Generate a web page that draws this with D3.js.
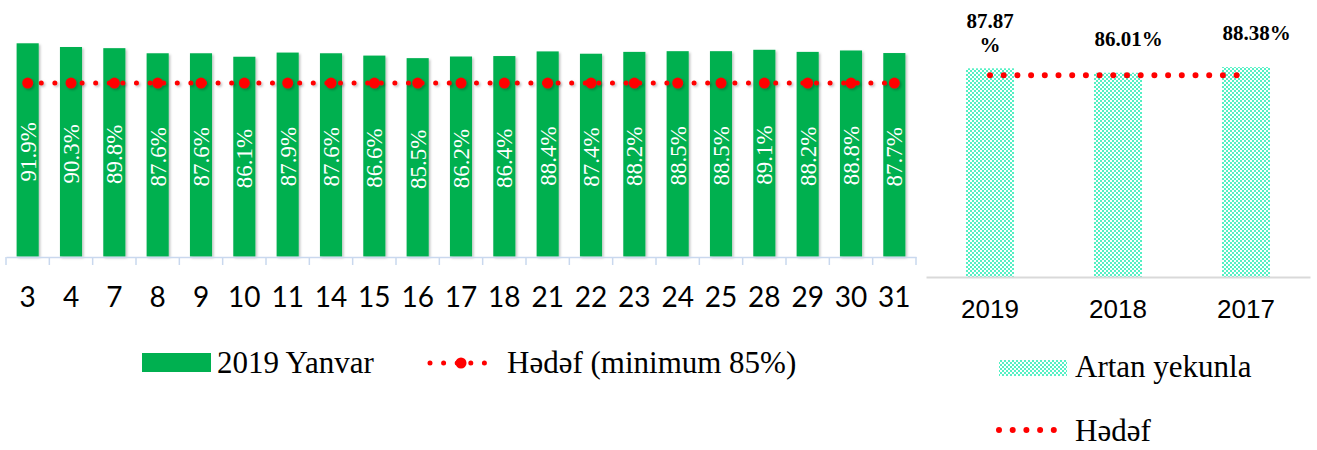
<!DOCTYPE html>
<html><head><meta charset="utf-8">
<script src="https://cdn.jsdelivr.net/npm/d3@7"></script>
<style>body{margin:0;background:#fff}</style>
</head><body><svg id="c" width="1317" height="450"></svg>
<script>
const days = ["3","4","7","8","9","10","11","14","15","16","17","18","21","22","23","24","25","28","29","30","31"];
const dayValues = [91.9,90.3,89.8,87.6,87.6,86.1,87.9,87.6,86.6,85.5,86.2,86.4,88.4,87.4,88.2,88.5,88.5,89.1,88.2,88.8,87.7];
const targetValue = 85;
const years = ["2019","2018","2017"];
const yearValues = [87.87,86.01,88.38];
const yearLabels = [["87.87","%"],["86.01%"],["88.38%"]];
const leftLegend = ["2019 Yanvar","Hədəf (minimum 85%)"];
const rightLegend = ["Artan yekunla","Hədəf"];

const GREEN = "#00b050", RED = "#ff0000", MINT = "#55f0c4";
const SERIF = "'Liberation Serif','Times New Roman',serif";
const svg = d3.select("#c");
const defs = svg.append("defs");
const pat = defs.append("pattern").attr("id","chk").attr("patternUnits","userSpaceOnUse").attr("width",4).attr("height",4);
pat.append("rect").attr("width",4).attr("height",4).attr("fill","#fff");
pat.append("rect").attr("width",2).attr("height",2).attr("fill",MINT);
pat.append("rect").attr("x",2).attr("y",2).attr("width",2).attr("height",2).attr("fill",MINT);
const sh = defs.append("filter").attr("id","sh").attr("x","-30%").attr("y","-30%").attr("width","160%").attr("height","160%");
sh.append("feDropShadow").attr("dx",1.5).attr("dy",1.5).attr("stdDeviation",1.2).attr("flood-color","#000").attr("flood-opacity",0.25);

// ---------- Left chart ----------
const x = d3.scaleBand().domain(days).range([6,916]).paddingInner(0.49).paddingOuter(0.245);
const y = d3.scaleLinear().domain([0,100]).range([256.5,24.5]);
const y2 = d3.scaleLinear().domain([0,100]).range([256.5,52.5]);
const L = svg.append("g");

L.selectAll("rect.bar").data(days).join("rect").attr("class","bar")
  .attr("x",d=>x(d)).attr("width",x.bandwidth())
  .attr("y",(d,i)=>y(dayValues[i])).attr("height",(d,i)=>y(0)-y(dayValues[i]))
  .attr("fill",GREEN).attr("filter","url(#sh)");

L.selectAll("text.vl").data(days).join("text").attr("class","vl")
  .attr("transform",(d,i)=>`translate(${x(d)+x.bandwidth()/2},${(y(dayValues[i])+y(0))/2+2}) rotate(-90)`)
  .attr("text-anchor","middle").attr("dy","0.35em")
  .attr("font-family",SERIF).attr("font-size",23).attr("fill","#fff")
  .text((d,i)=>dayValues[i].toFixed(1)+"%");

// axis
const ax = L.append("g").attr("transform",`translate(0,${y(0)+0.5})`)
  .call(d3.axisBottom(x).tickSize(0).tickFormat(""));
ax.select(".domain").attr("stroke","#c9d8ee").attr("stroke-width",1.5);
const bounds = days.map(d=>x(d)-x.step()*x.paddingInner()/2).concat([x.range()[1]]);
ax.selectAll("line.tk").data(bounds).join("line").attr("class","tk")
  .attr("x1",d=>d).attr("x2",d=>d).attr("y1",0).attr("y2",8)
  .attr("stroke","#c9d8ee").attr("stroke-width",1.5);
L.selectAll("text.cat").data(days).join("text").attr("class","cat")
  .attr("x",d=>x(d)+x.bandwidth()/2).attr("y",307)
  .attr("text-anchor","middle").attr("font-family","Lato, 'Open Sans', sans-serif")
  .attr("font-size",28).attr("fill","#000").text(d=>d);

// target line
const cx = d=>x(d)+x.bandwidth()/2;
const tline = d3.line().x(d=>cx(d)).y(()=>y2(targetValue));
const tg = L.append("g").attr("filter","url(#sh)");
tg.append("path").attr("d",tline(days)).attr("fill","none").attr("stroke",RED)
  .attr("stroke-width",5).attr("stroke-linecap","round").attr("stroke-dasharray","0 13.6");
tg.selectAll("circle").data(days).join("circle").attr("cx",cx).attr("cy",y2(targetValue))
  .attr("r",5.5).attr("fill",RED);

// left legend
const lg = L.append("g");
lg.append("rect").attr("x",142).attr("y",353).attr("width",69).attr("height",19).attr("fill",GREEN);
lg.append("text").attr("x",217).attr("y",373).attr("font-family",SERIF).attr("font-size",31).text(leftLegend[0]);
lg.append("line").attr("x1",430).attr("x2",492).attr("y1",363).attr("y2",363).attr("stroke",RED)
  .attr("stroke-width",5).attr("stroke-linecap","round").attr("stroke-dasharray","0 13.6");
lg.append("circle").attr("cx",461).attr("cy",363).attr("r",5.5).attr("fill",RED);
lg.append("text").attr("x",507).attr("y",373).attr("font-family",SERIF).attr("font-size",31).text(leftLegend[1]);

// ---------- Right chart ----------
const xr = d3.scaleBand().domain(years).range([926,1310]).paddingInner(0.625).paddingOuter(0.3125);
const yr = d3.scaleLinear().domain([0,100]).range([277,39.5]);
const R = svg.append("g");
R.selectAll("rect.bar").data(years).join("rect").attr("class","bar")
  .attr("x",d=>xr(d)).attr("width",xr.bandwidth())
  .attr("y",(d,i)=>yr(yearValues[i])).attr("height",(d,i)=>yr(0)-yr(yearValues[i]))
  .attr("fill","url(#chk)");
const rax = R.append("g").attr("transform",`translate(0,${yr(0)})`)
  .call(d3.axisBottom(xr).tickSize(0).tickPadding(0).tickFormat(""));
rax.select(".domain").attr("stroke","#d9d9d9").attr("stroke-width",2);
R.selectAll("text.cat").data(years).join("text").attr("class","cat")
  .attr("x",d=>xr(d)+xr.bandwidth()/2).attr("y",318).attr("text-anchor","middle")
  .attr("font-family","'Liberation Sans', Arial, sans-serif").attr("font-size",26).text(d=>d);
const rcx = d=>xr(d)+xr.bandwidth()/2;
R.append("path").attr("d",d3.line().x(d=>rcx(d)).y(()=>yr(targetValue))(years))
  .attr("fill","none").attr("stroke",RED).attr("stroke-width",6)
  .attr("stroke-linecap","round").attr("stroke-dasharray","0 13.7");
// value labels
years.forEach((d,i)=>{
  const lines = yearLabels[i];
  const multi = lines.length>1;
  const t = R.append("text").attr("text-anchor","middle").attr("font-family",SERIF)
    .attr("font-size",21).attr("font-weight","bold").attr("fill","#000");
  const baseY = multi ? yr(yearValues[i]) - 16 - (lines.length-1)*24 : yr(yearValues[i]) - 27;
  lines.forEach((ln,j)=>{
    t.append("tspan").attr("x",rcx(d)+(multi?0:10.5)).attr("y",baseY+j*24).text(ln);
  });
});
// right legend
R.append("rect").attr("x",999).attr("y",360).attr("width",68).attr("height",16).attr("fill","url(#chk)");
R.append("text").attr("x",1075).attr("y",377).attr("font-family",SERIF).attr("font-size",31).text(rightLegend[0]);
R.append("line").attr("x1",999).attr("x2",1056).attr("y1",430).attr("y2",430).attr("stroke",RED)
  .attr("stroke-width",6).attr("stroke-linecap","round").attr("stroke-dasharray","0 13.7");
R.append("text").attr("x",1075).attr("y",441).attr("font-family",SERIF).attr("font-size",31).text(rightLegend[1]);
</script></body></html>
